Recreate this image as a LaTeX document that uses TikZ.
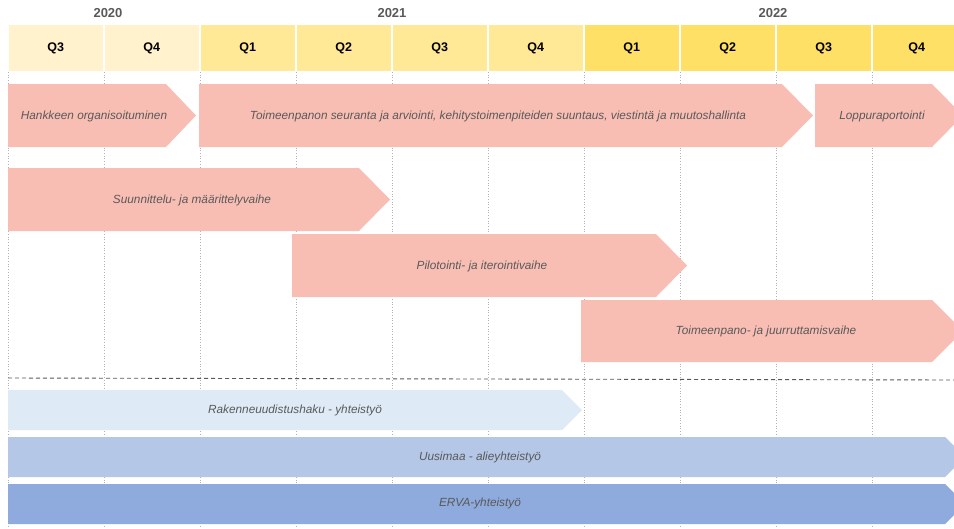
\documentclass[tikz,border=0pt]{standalone}
\usepackage{fontspec}
\setmainfont{Liberation Sans}
\definecolor{y20}{HTML}{FFF2CC}
\definecolor{y21}{HTML}{FFE896}
\definecolor{y22}{HTML}{FFE066}
\definecolor{pinkbar}{HTML}{F8BEB4}
\definecolor{blueA}{HTML}{DEEAF6}
\definecolor{blueB}{HTML}{B4C7E7}
\definecolor{blueC}{HTML}{8FAADC}
\definecolor{txtgray}{HTML}{595959}
\begin{document}
\begin{tikzpicture}[x=1pt,y=-1pt,
  qcell/.style={inner sep=0pt, minimum width=94pt, minimum height=46pt, anchor=north west, font=\fontsize{12.5}{14}\selectfont\bfseries, text=black},
  yearlbl/.style={font=\fontsize{13}{15}\selectfont\bfseries, text=txtgray},
  barlbl/.style={font=\fontsize{11.8}{13}\selectfont\itshape, text=txtgray, inner sep=0pt},
  gridline/.style={draw=black!30, dotted, line width=0.7pt}]
\useasboundingbox (0,0) rectangle (954,528);
\clip (0,0) rectangle (954,528);
% grid
\foreach \k in {0,...,9}{
  \draw[gridline] (8+96*\k,72) -- (8+96*\k,528);
}
% years
\node[yearlbl] (y2020) at (108,13) {2020};
\node[yearlbl] (y2021) at (392,13) {2021};
\node[yearlbl] (y2022) at (773,13) {2022};
% quarter cells
\node[qcell, fill=y20] (c0) at (8.5,25) {Q3};
\node[qcell, fill=y20] (c1) at (104.5,25) {Q4};
\node[qcell, fill=y21] (c2) at (200.5,25) {Q1};
\node[qcell, fill=y21] (c3) at (296.5,25) {Q2};
\node[qcell, fill=y21] (c4) at (392.5,25) {Q3};
\node[qcell, fill=y21] (c5) at (488.5,25) {Q4};
\node[qcell, fill=y22] (c6) at (584.5,25) {Q1};
\node[qcell, fill=y22] (c7) at (680.5,25) {Q2};
\node[qcell, fill=y22] (c8) at (776.5,25) {Q3};
\node[qcell, fill=y22, minimum width=88pt] (c9) at (872.5,25) {Q4};
% pink phases
\fill[pinkbar] (8,84) -- (166,84) -- (196,115.5) -- (166,147) -- (8,147) -- cycle;
\fill[pinkbar] (199,84) -- (782,84) -- (813,115.5) -- (782,147) -- (199,147) -- cycle;
\fill[pinkbar] (815,84) -- (932,84) -- (963,115.5) -- (932,147) -- (815,147) -- cycle;
\fill[pinkbar] (8,168) -- (359,168) -- (390,199.5) -- (359,231) -- (8,231) -- cycle;
\fill[pinkbar] (292,234) -- (656,234) -- (687,265.5) -- (656,297) -- (292,297) -- cycle;
\fill[pinkbar] (581,300) -- (932,300) -- (963,331) -- (932,362) -- (581,362) -- cycle;
\node[barlbl] (p1) at (94,116) {Hankkeen organisoituminen};
\node[barlbl] (p2) at (498,116) {Toimeenpanon seuranta ja arviointi, kehitystoimenpiteiden suuntaus, viestintä ja muutoshallinta};
\node[barlbl] (p3) at (882,116) {Loppuraportointi};
\node[barlbl] (p4) at (192,200) {Suunnittelu- ja määrittelyvaihe};
\node[barlbl] (p5) at (482,266) {Pilotointi- ja iterointivaihe};
\node[barlbl] (p6) at (766,331) {Toimeenpano- ja juurruttamisvaihe};
% dashed separator
\coordinate (dl) at (8,378);
\coordinate (dr) at (954,380);
\draw[draw=black!65, line width=0.9pt, dash pattern=on 4pt off 3pt] (dl) -- (dr);
% blue bars
\fill[blueA] (8,390) -- (562,390) -- (582,410) -- (562,430) -- (8,430) -- cycle;
\fill[blueB] (8,437) -- (945,437) -- (965,457) -- (945,477) -- (8,477) -- cycle;
\fill[blueC] (8,484) -- (945,484) -- (965,504) -- (945,524) -- (8,524) -- cycle;
\node[barlbl] (b1) at (295,410) {Rakenneuudistushaku - yhteistyö};
\node[barlbl] (b2) at (480,457) {Uusimaa - alieyhteistyö};
\node[barlbl] (b3) at (480,503) {ERVA-yhteistyö};
\end{tikzpicture}
\end{document}
